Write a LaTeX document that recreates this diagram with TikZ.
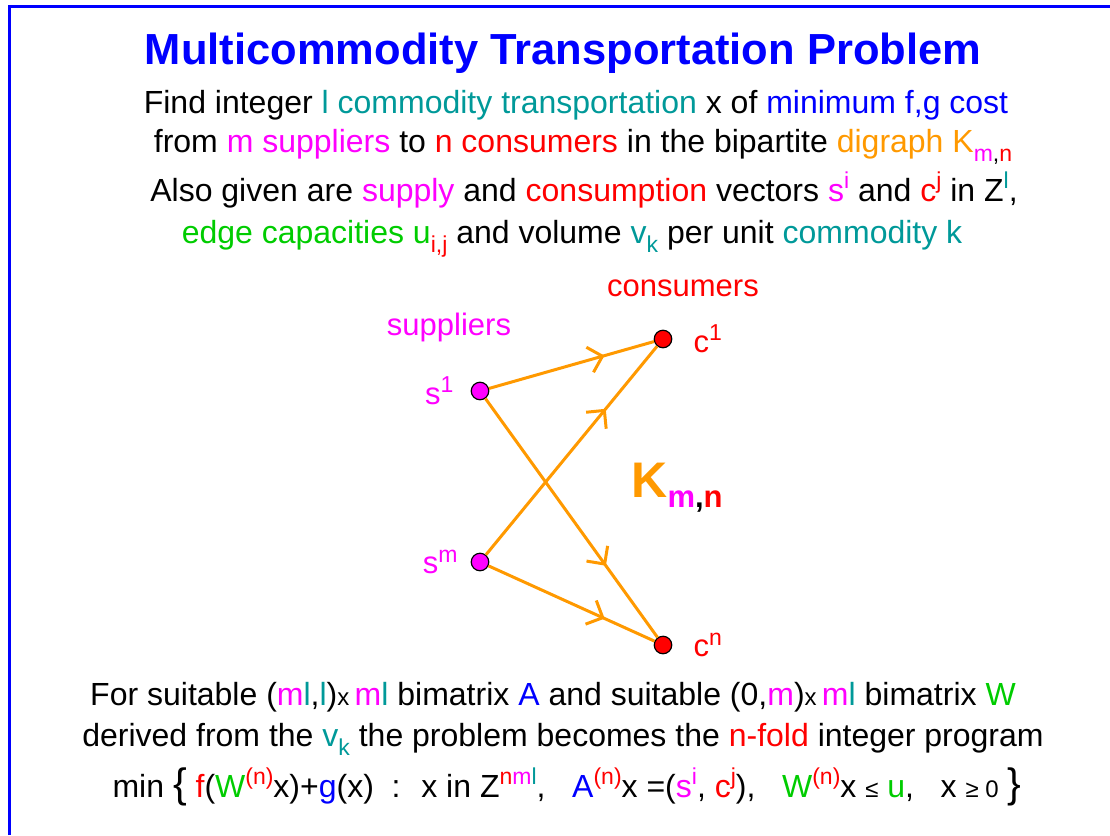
\documentclass[tikz,border=0pt]{standalone}
\usepackage{fontspec}
\setmainfont{Liberation Sans}
\usetikzlibrary{arrows.meta, positioning, decorations.markings}

\definecolor{tealc}{HTML}{009999}
\definecolor{bluec}{HTML}{0000FF}
\definecolor{magc}{HTML}{FF00FF}
\definecolor{redc}{HTML}{FF0000}
\definecolor{orgc}{HTML}{FF9900}
\definecolor{grnc}{HTML}{00CC00}

\newcommand{\up}[1]{\raisebox{0.38em}{\fontsize{23}{23}\selectfont #1}}
\newcommand{\dn}[1]{\raisebox{-0.3em}{\fontsize{23}{23}\selectfont #1}}
\newcommand{\sm}[1]{{\fontsize{24}{24}\selectfont #1}}
\newcommand{\brc}[1]{{\fontsize{41}{41}\selectfont #1}}

\begin{document}
\begin{tikzpicture}[
  x=1pt, y=-1pt,
  txt/.style   = {anchor=base, inner sep=0pt, font=\fontsize{32}{38}\selectfont},
  lbl/.style   = {inner sep=0pt, font=\fontsize{31}{36}\selectfont},
  dot/.style   = {circle, draw=black, line width=1.2pt,
                  minimum size=17.5pt, inner sep=0pt},
  edge/.style  = {orgc, line width=3pt, postaction={decorate},
                  decoration={markings, mark=at position 0.7 with
                  {\arrow{Straight Barb[length=13pt,width=26pt]}}}},
]
\useasboundingbox (0,0) rectangle (1110,835);
% frame
\draw[bluec, line width=3pt] (9.5,835) -- (9.5,6.3) -- (1110,6.3);

% title and statement
\node[txt, font=\fontsize{43.5}{50}\selectfont\bfseries, text=bluec] (title) at (563,64)
  {Multicommodity Transportation Problem};
\node[txt] (line1) at (576,113) {Find integer \textcolor{tealc}{l commodity transportation}
  x of \textcolor{bluec}{minimum f,g cost}};
\node[txt] (line2) at (583,152) {from \textcolor{magc}{m suppliers} to
  \textcolor{redc}{n consumers} in the bipartite
  \textcolor{orgc}{digraph K}\dn{\textcolor{magc}{m},\textcolor{redc}{n}}};
\node[txt] (line3) at (584,201) {Also given are \textcolor{magc}{supply} and
  \textcolor{redc}{consumption} vectors \textcolor{magc}{s\up{i}} and
  \textcolor{redc}{c\up{j}} in Z\up{\textcolor{tealc}{l}},};
\node[txt] (line4) at (572,243) {\textcolor{grnc}{edge capacities u}\dn{\textcolor{redc}{i,j}}
  and volume \textcolor{tealc}{v\dn{k}} per unit \textcolor{tealc}{commodity k}};

% bipartite digraph
\node[dot, fill=magc] (s1) at (480,391) {};
\node[dot, fill=magc] (sm) at (480,562) {};
\node[dot, fill=redc] (c1) at (663,339) {};
\node[dot, fill=redc] (cn) at (663,645) {};
\node[lbl, text=magc, left=17pt of s1]  (s1lbl) {s\up{1}};
\node[lbl, text=magc, left=13pt of sm]  (smlbl) {s\up{m}};
\node[lbl, text=redc, right=21pt of c1] (c1lbl) {c\up{1}};
\node[lbl, text=redc, right=21pt of cn] (cnlbl) {c\up{n}};
\node[txt, font=\fontsize{31}{36}\selectfont, text=magc] (supp) at (449,335) {suppliers};
\node[txt, font=\fontsize{31}{36}\selectfont, text=redc] (cons) at (683,296) {consumers};
\node[txt, font=\fontsize{50}{58}\selectfont\bfseries, text=orgc] (kmn) at (677,497)
  {K\raisebox{-10pt}{\fontsize{31}{31}\selectfont\textcolor{magc}{m}\textcolor{black}{,}\textcolor{redc}{n}}};

\draw[edge] (s1) -- (c1);
\draw[edge] (s1) -- (cn);
\draw[edge] (sm) -- (c1);
\draw[edge] (sm) -- (cn);

% n-fold program
\node[txt] (linea) at (553,705) {For suitable (\textcolor{magc}{m}\textcolor{tealc}{l},\textcolor{tealc}{l})\sm{x}\,\textcolor{magc}{m}\textcolor{tealc}{l}
  bimatrix \textcolor{bluec}{A} and suitable (0,\textcolor{magc}{m})\sm{x}\,\textcolor{magc}{m}\textcolor{tealc}{l}
  bimatrix \textcolor{grnc}{W}};
\node[txt] (lineb) at (563,746) {derived from the \textcolor{tealc}{v\dn{k}} the problem
  becomes the \textcolor{redc}{n-fold} integer program};
\node[txt] (prog) at (567,797) {min \brc{\{} \textcolor{redc}{f}(\textcolor{grnc}{W}\up{\textcolor{redc}{(n)}}x)+\textcolor{bluec}{g}(x)
  \ : \ x in Z\up{\textcolor{redc}{n}\textcolor{magc}{m}\textcolor{tealc}{l}}, \ \
  \textcolor{bluec}{A}\up{\textcolor{redc}{(n)}}x =(\textcolor{magc}{s\up{i}}, \textcolor{redc}{c\up{j}}), \ \
  \textcolor{grnc}{W}\up{\textcolor{redc}{(n)}}x \sm{≤} \textcolor{grnc}{u}, \ \ x \sm{≥ 0} \brc{\}}};
\end{tikzpicture}
\end{document}
